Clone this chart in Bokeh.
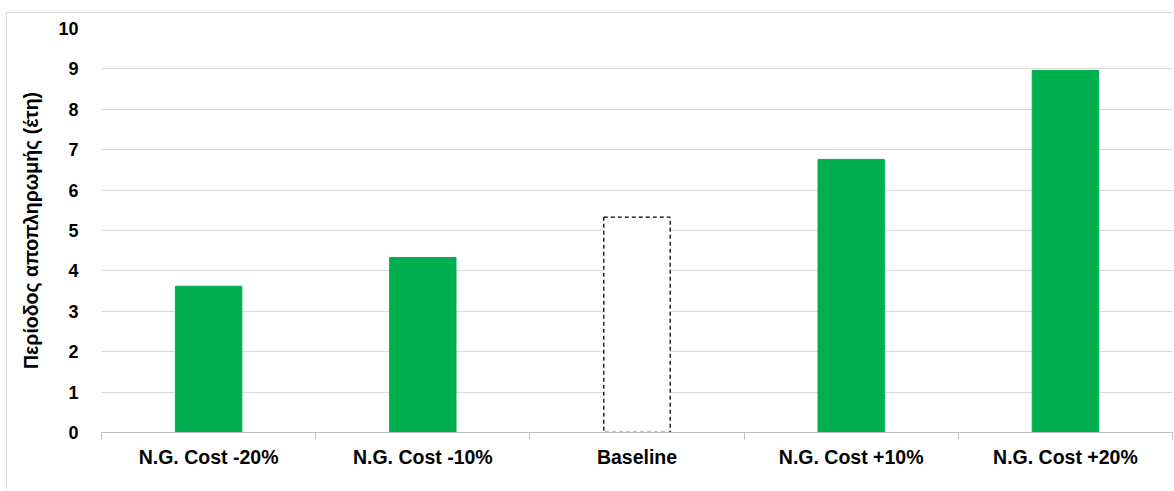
from bokeh.plotting import figure
from bokeh.models import FixedTicker, Range1d
from bokeh.embed import file_html
from bokeh.resources import INLINE

categories = ["N.G. Cost -20%", "N.G. Cost -10%", "Baseline", "N.G. Cost +10%", "N.G. Cost +20%"]
values = [3.62, 4.33, 5.33, 6.76, 8.96]
is_baseline = [False, False, True, False, False]
y_ticks = [0, 1, 2, 3, 4, 5, 6, 7, 8, 9, 10]

xs = list(range(1, len(categories) + 1))
green_x = [x for x, b in zip(xs, is_baseline) if not b]
green_v = [v for v, b in zip(values, is_baseline) if not b]
base_x = [x for x, b in zip(xs, is_baseline) if b]
base_v = [v for v, b in zip(values, is_baseline) if b]

p = figure(width=1167, height=478, output_backend="svg", toolbar_location=None,
           x_range=Range1d(0.5, len(categories) + 0.5), y_range=Range1d(0, 10))
p.styles = {"margin-left": "6px", "margin-top": "12px",
            "border-left": "1px solid #d9d9d9", "border-top": "1px solid #d9d9d9"}
p.min_border_left = 94
p.min_border_right = 2
p.min_border_top = 15
p.min_border_bottom = 59
p.outline_line_color = None
p.background_fill_color = "white"
p.border_fill_color = "white"

p.vbar(x=green_x, top=green_v, width=0.31, bottom=0, fill_color="#00b050", line_color="#00b050")
p.vbar(x=base_x, top=base_v, width=0.31, bottom=0, fill_color="white", line_color="black",
       line_dash="4 3", line_width=1.3)

# x axis
xt = FixedTicker(ticks=xs, minor_ticks=[x - 0.5 for x in xs] + [xs[-1] + 0.5])
p.xaxis.ticker = xt
p.xaxis.major_label_overrides = {x: c for x, c in zip(xs, categories)}
p.xaxis.major_tick_out = 0
p.xaxis.major_tick_in = 0
p.xaxis.minor_tick_out = 7
p.xaxis.minor_tick_in = 0
p.xaxis.minor_tick_line_color = "#bfbfbf"
p.xaxis.axis_line_color = "#bfbfbf"
p.xaxis.major_label_text_font = "Liberation Sans"
p.xaxis.major_label_text_font_style = "bold"
p.xaxis.major_label_text_font_size = "19.5px"
p.xaxis.major_label_text_color = "black"
p.xaxis.major_label_standoff = 6

# y axis
p.yaxis.ticker = FixedTicker(ticks=y_ticks)
p.yaxis.axis_line_color = None
p.yaxis.major_tick_line_color = None
p.yaxis.minor_tick_line_color = None
p.yaxis.major_label_text_font = "Liberation Sans"
p.yaxis.major_label_text_font_style = "bold"
p.yaxis.major_label_text_font_size = "18px"
p.yaxis.major_label_text_color = "black"
p.yaxis.major_label_standoff = 17
p.yaxis.axis_label = "Περίοδος αποπληρωμής (έτη)"
p.yaxis.axis_label_text_font = "Liberation Sans"
p.yaxis.axis_label_text_font_style = "bold"
p.yaxis.axis_label_text_font_size = "19.5px"
p.yaxis.axis_label_text_color = "black"
p.yaxis.axis_label_standoff = 13

p.xgrid.grid_line_color = None
p.ygrid.grid_line_color = "#d9d9d9"
p.ygrid.ticker = FixedTicker(ticks=y_ticks[1:])

open("out.html", "w").write(file_html(p, INLINE))
